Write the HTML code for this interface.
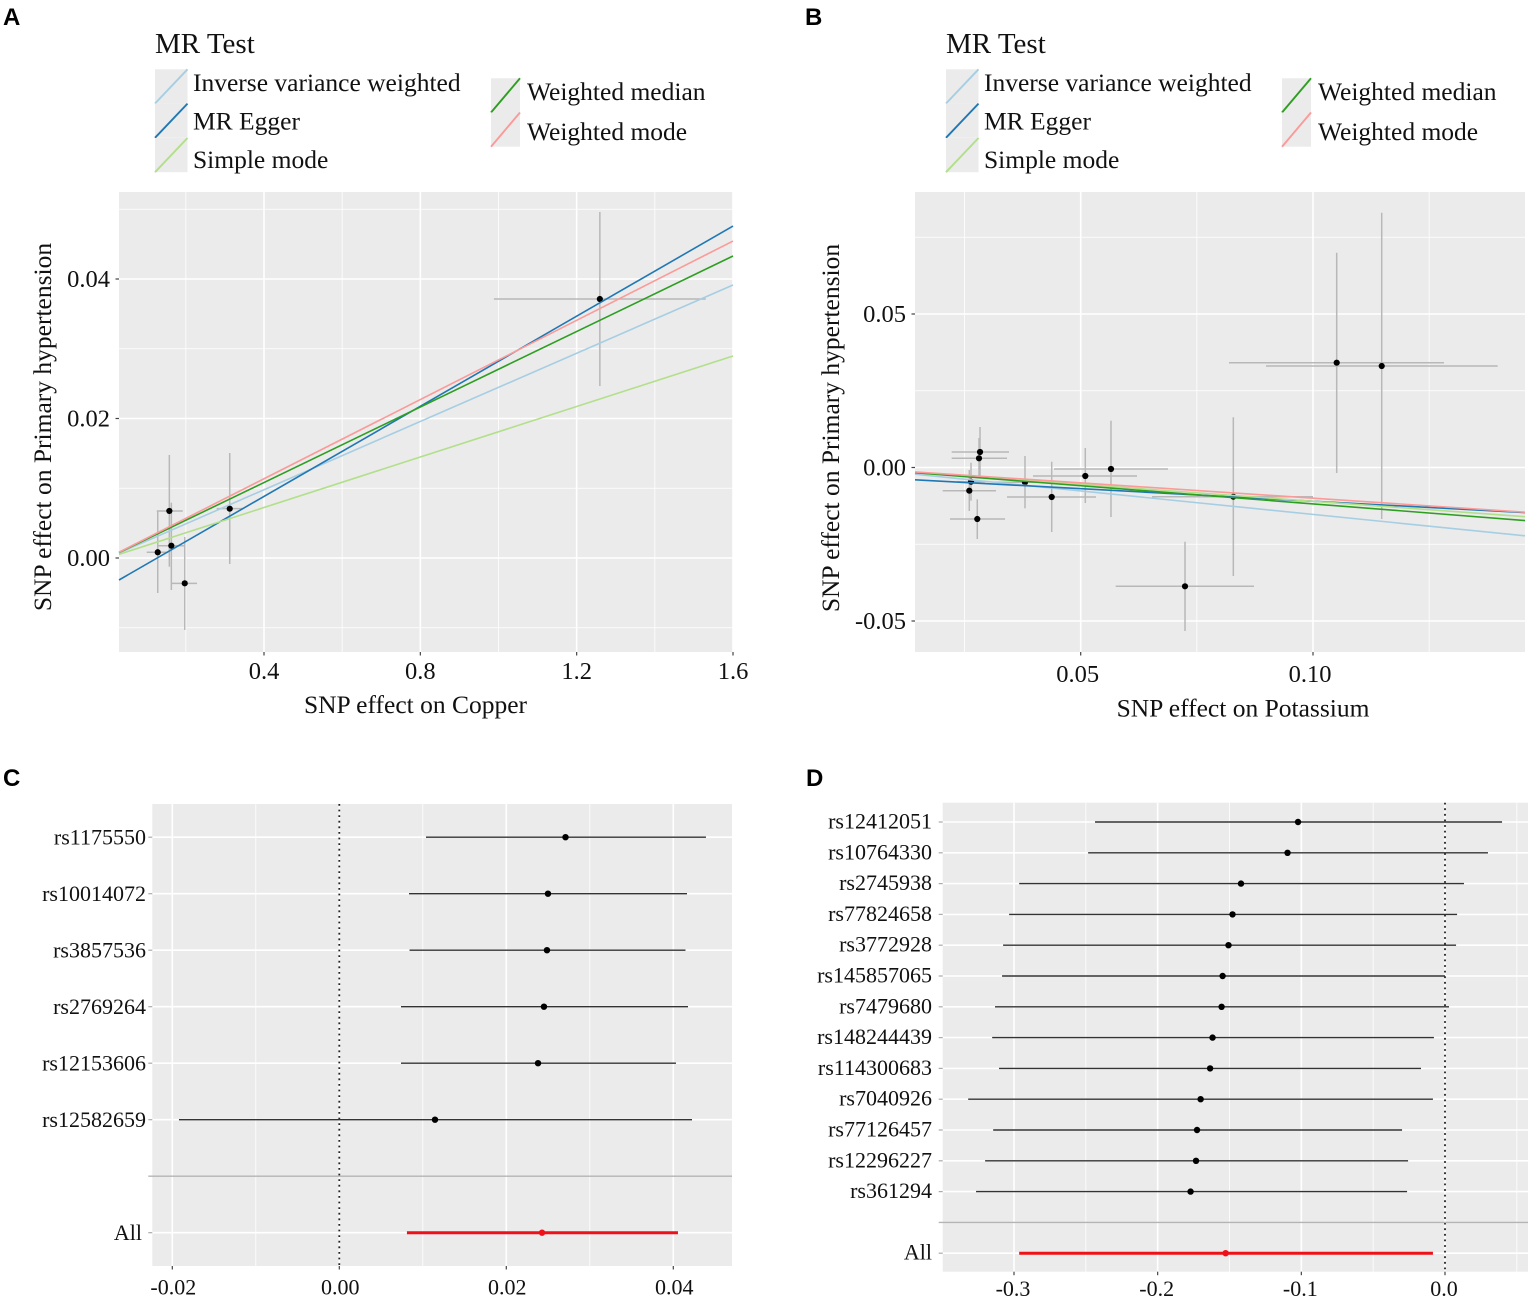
<!DOCTYPE html>
<html>
<head>
<meta charset="utf-8">
<title>MR scatter and forest plots</title>
<style>
html,body{margin:0;padding:0;background:#fff;}
svg{display:block;font-family:"Liberation Serif",serif;}
</style>
</head>
<body>
<svg id="fig" xmlns="http://www.w3.org/2000/svg" width="1535" height="1302" viewBox="0 0 1535 1302"></svg>
<script>
// ---- shared legend data ----
const methodNames = ['Inverse variance weighted','MR Egger','Simple mode','Weighted median','Weighted mode'];
const methodColors = ['#A6CEE3','#1F78B4','#B2DF8A','#2E9E22','#FB9A99'];

// ---- panel A data ----
const aSnpX = [0.1281,0.1578,0.1629,0.1972,0.3123,1.2593];
const aSnpY = [0.00082,0.00674,0.00176,-0.00363,0.00707,0.03713];
const aXLow = [0.1000,0.1256,0.1263,0.1639,0.2790,0.9882];
const aXHigh = [0.1545,0.1921,0.1979,0.2286,0.3455,1.5304];
const aYLow = [-0.00502,-0.00125,-0.00459,-0.01032,-0.00086,0.02466];
const aYHigh = [0.00674,0.01477,0.00793,0.00301,0.01505,0.0496];
const aIntercepts = [0,-0.00409,0,0,0];
const aSlopes = [0.02446,0.0323,0.0181,0.02706,0.0284];
const aXTicks = [0.4,0.8,1.2,1.6];
const aXMinor = [0.2,0.6,1.0,1.4];
const aYTicks = [0,0.02,0.04];
const aYMinor = [-0.01,0.01,0.03,0.05];

// ---- panel B data ----
const bSnpX = [0.02833,0.02811,0.02639,0.02602,0.02774,0.03801,0.04376,0.05099,0.05652,0.07245,0.08285,0.10510,0.11479];
const bSnpY = [0.00505,0.00300,-0.00463,-0.00756,-0.01678,-0.00482,-0.00961,-0.00277,-0.00049,-0.03870,-0.00951,0.03414,0.03306];
const bXLow = [0.02223,0.02223,0.02338,0.02030,0.02187,0.03155,0.03414,0.03973,0.04425,0.05753,0.06535,0.08192,0.08988];
const bXHigh = [0.03457,0.03414,0.02940,0.03177,0.03371,0.04447,0.05329,0.06212,0.06879,0.08730,0.10000,0.12819,0.13975];
const bYLow = [-0.00309,-0.00300,-0.01081,-0.01417,-0.02329,-0.01329,-0.02101,-0.01156,-0.01612,-0.05326,-0.03534,-0.00179,-0.01678];
const bYHigh = [0.01319,0.00961,0.00156,-0.00081,-0.01036,0.00375,0.00189,0.00635,0.01524,-0.02417,0.01635,0.06997,0.08300];
const bIntercepts = [0,-0.00283,0,0,0];
const bSlopes = [-0.1528,-0.0815,-0.11,-0.1186,-0.1];
const bXTicks = [0.05,0.10];
const bXMinor = [0.025,0.075,0.125];
const bYTicks = [-0.05,0,0.05];
const bYMinor = [-0.025,0.025,0.075];

// ---- panel C data ----
const cLabels = ['rs1175550','rs10014072','rs3857536','rs2769264','rs12153606','rs12582659','','All'];
const cEffect = [0.02709,0.02499,0.02487,0.02451,0.02380,0.01146,null,0.02428];
const cLow = [0.01038,0.00835,0.00841,0.00739,0.00739,-0.01920,null,0.00810];
const cHigh = [0.04391,0.04164,0.04146,0.04176,0.04032,0.04224,null,0.04056];
const cXTicks = [-0.02,0,0.02,0.04];
const cXMinor = [-0.01,0.01,0.03];
const cTickText = ['-0.02','0.00','0.02','0.04'];

// ---- panel D data ----
const dLabels = ['rs12412051','rs10764330','rs2745938','rs77824658','rs3772928','rs145857065','rs7479680','rs148244439','rs114300683','rs7040926','rs77126457','rs12296227','rs361294','','All'];
const dEffect = [-0.1023,-0.1096,-0.1420,-0.1479,-0.1507,-0.1548,-0.1555,-0.1618,-0.1635,-0.1701,-0.1726,-0.1733,-0.1771,null,-0.1527];
const dLow = [-0.2436,-0.2484,-0.2964,-0.3034,-0.3076,-0.3083,-0.3132,-0.3152,-0.3104,-0.3319,-0.3145,-0.3201,-0.3264,null,-0.2964];
const dHigh = [0.0397,0.0299,0.0132,0.0084,0.0077,0.0000,0.0028,-0.0077,-0.0167,-0.0084,-0.0299,-0.0257,-0.0264,null,-0.0084];
const dXTicks = [-0.3,-0.2,-0.1,0];
const dXMinor = [-0.25,-0.15,-0.05,0.05];
const dTickText = ['-0.3','-0.2','-0.1','0.0'];

const NS = 'http://www.w3.org/2000/svg';
const fig = document.getElementById('fig');

function mk(tag, attrs, parent){
  const n = document.createElementNS(NS, tag);
  for (const k in attrs) n.setAttribute(k, attrs[k]);
  parent.appendChild(n);
  return n;
}
function group(name, parent){
  const g = mk('g', {}, parent);
  
  
  return g;
}
function seg(parent, name, x1, y1, x2, y2, color, w, dash){
  const l = mk('line', {x1:x1, y1:y1, x2:x2, y2:y2, stroke:color, 'stroke-width':w}, parent);
  if (dash) l.setAttribute('stroke-dasharray', dash);
  
  
  return l;
}
function label(parent, name, str, x, y, size, anchor, color){
  const t = mk('text', {x:x, y:y, 'font-size':size, 'text-anchor':anchor || 'middle', fill:color || '#111'}, parent);
  t.textContent = str;
  
  
  return t;
}
function panelLetter(str, x, y){
  const t = mk('text', {x:x, y:y, 'font-size':24, 'font-weight':'bold', 'font-family':'"Liberation Sans",sans-serif', fill:'#000'}, fig);
  t.textContent = str;
  
  
}
// linear scale anchored on two (value, pixel) reference pairs
function scale(v0, p0, v1, p1){
  const f = v => p0 + (v - v0) * (p1 - p0) / (v1 - v0);
  f.inv = p => v0 + (p - p0) * (v1 - v0) / (p1 - p0);
  return f;
}

function drawLegend(dx, g){
  label(g, 'legend-title', 'MR Test', 155 + dx, 53, 29, 'start');
  const rows = [[155,187.5,69.3,193,91],[155,187.5,103.6,193,129.5],[155,187.5,138,193,168],[491,520,78.3,527,100],[491,520,112.5,527,140]];
  methodNames.forEach((name, i) => {
    const r = rows[i];
    const h = 34.2;
    const key = mk('rect', {x:r[0]+dx, y:r[2], width:r[1]-r[0], height:h, fill:'#EBEBEB'}, g);
    
    
    seg(g, 'legend-line', r[0]+dx, r[2]+h, r[1]+dx, r[2], methodColors[i], 1.9);
    label(g, 'legend-label', name, r[3]+dx, r[4], 25.5, 'start');
  });
}

function drawScatter(p){
  const g = group(p.name, fig);
  const bg = mk('rect', {x:p.l, y:p.t, width:p.r-p.l, height:p.b-p.t, fill:'#EBEBEB'}, g);
  
  
  p.xMinor.forEach(v => seg(g, 'x-minor-gridline', p.sx(v), p.t, p.sx(v), p.b, '#fff', 0.8));
  p.yMinor.forEach(v => seg(g, 'y-minor-gridline', p.l, p.sy(v), p.r, p.sy(v), '#fff', 0.8));
  p.xTicks.forEach(v => {
    seg(g, 'x-major-gridline', p.sx(v), p.t, p.sx(v), p.b, '#fff', 1.6);
    seg(g, 'x-tick', p.sx(v), p.b, p.sx(v), p.b+3.5, '#444', 1.2);
    label(g, 'x-tick-label', v.toFixed(p.xDec), p.sx(v)+p.xLabelShift, p.xTickY, 24.5);
  });
  p.yTicks.forEach(v => {
    seg(g, 'y-major-gridline', p.l, p.sy(v), p.r, p.sy(v), '#fff', 1.6);
    seg(g, 'y-tick', p.l-3.5, p.sy(v), p.l, p.sy(v), '#444', 1.2);
    label(g, 'y-tick-label', v.toFixed(2), p.l-9, p.sy(v)+8, 24.5, 'end');
  });
  p.px.forEach((x, i) => {
    seg(g, 'snp-x-error-bar', p.sx(p.xLow[i]), p.sy(p.py[i]), p.sx(p.xHigh[i]), p.sy(p.py[i]), '#B8B8B8', 1.5);
    seg(g, 'snp-y-error-bar', p.sx(x), p.sy(p.yLow[i]), p.sx(x), p.sy(p.yHigh[i]), '#B8B8B8', 1.5);
  });
  p.px.forEach((x, i) => {
    const c = mk('circle', {cx:p.sx(x), cy:p.sy(p.py[i]), r:3.1, fill:'#000'}, g);
    
    
  });
  const xMin = p.sx.inv(p.l), xMax = p.sx.inv(p.r);
  methodNames.forEach((m, i) => {
    const yA = p.intercepts[i] + p.slopes[i] * xMin;
    const yB = p.intercepts[i] + p.slopes[i] * xMax;
    seg(g, 'regression-line', p.l, p.sy(yA), p.r, p.sy(yB), methodColors[i], 1.6);
  });
  label(g, 'x-axis-title', p.xTitle, p.xTitleX, p.xTitleY, 25.5);
  const yt = label(g, 'y-axis-title', 'SNP effect on Primary hypertension', 0, 0, 25.5);
  yt.setAttribute('transform', 'translate(' + p.yTitleX + ',' + p.yTitleY + ') rotate(-90)');
  drawLegend(p.legendDx, group('legend', g));
}

function drawForest(p){
  const g = group(p.name, fig);
  const bg = mk('rect', {x:p.l, y:p.t, width:p.r-p.l, height:p.b-p.t, fill:'#EBEBEB'}, g);
  
  
  p.xMinor.forEach(v => seg(g, 'x-minor-gridline', p.sx(v), p.t, p.sx(v), p.b, '#fff', 0.8));
  p.xTicks.forEach((v, i) => {
    seg(g, 'x-major-gridline', p.sx(v), p.t, p.sx(v), p.b, '#fff', 1.6);
    seg(g, 'x-tick', p.sx(v), p.b, p.sx(v), p.b+3.5, '#444', 1.2);
    label(g, 'x-tick-label', p.tickText[i], p.sx(v)+p.tickShift, p.xTickY, 22);
  });
  p.labels.forEach((lab, i) => {
    const y = p.y0 + i * p.step;
    if (lab === '') return;
    seg(g, 'y-gridline', p.l, y, p.r, y, '#fff', 1.6);
    seg(g, 'y-tick', p.l-4, y, p.l, y, '#aaa', 1.2);
    label(g, 'snp-label', lab, lab === 'All' ? p.allRight : p.labelRight, y+p.labelDy, 22, 'end');
  });
  seg(g, 'zero-reference-line', p.sx(0), p.t, p.sx(0), p.b, '#222', 1.8, '1.8,3.8');
  p.labels.forEach((lab, i) => {
    const y = p.y0 + i * p.step;
    if (lab === '') {
      seg(g, 'separator-line', p.l-4, y, p.r, y, '#B4B4B4', 1.4);
      return;
    }
    const isAll = lab === 'All';
    seg(g, isAll ? 'overall-interval' : 'snp-interval', p.sx(p.low[i]), y, p.sx(p.high[i]), y, isAll ? '#EE1118' : '#333', isAll ? 3 : 1.4);
    const c = mk('circle', {cx:p.sx(p.effect[i]), cy:y, r:3.2, fill:isAll ? '#EE1118' : '#000'}, g);
    
    
  });
}

panelLetter('A', 3, 25);
panelLetter('B', 805, 25);
panelLetter('C', 3, 786);
panelLetter('D', 806, 786);

drawScatter({
  name:'panel-a-scatter', l:119, r:733, t:192, b:652,
  sx:scale(0.4,264,1.6,733), sy:scale(0,558,0.04,279),
  px:aSnpX, py:aSnpY, xLow:aXLow, xHigh:aXHigh, yLow:aYLow, yHigh:aYHigh,
  intercepts:aIntercepts, slopes:aSlopes,
  xTicks:aXTicks, xMinor:aXMinor, yTicks:aYTicks, yMinor:aYMinor, xDec:1, xLabelShift:0,
  xTickY:679, xTitle:'SNP effect on Copper', xTitleX:415.5, xTitleY:713,
  yTitleX:51, yTitleY:427, legendDx:0
});
drawScatter({
  name:'panel-b-scatter', l:915, r:1525, t:192, b:652,
  sx:scale(0.05,1080.7,0.10,1313), sy:scale(0,467.5,0.05,314),
  px:bSnpX, py:bSnpY, xLow:bXLow, xHigh:bXHigh, yLow:bYLow, yHigh:bYHigh,
  intercepts:bIntercepts, slopes:bSlopes,
  xTicks:bXTicks, xMinor:bXMinor, yTicks:bYTicks, yMinor:bYMinor, xDec:2, xLabelShift:-3,
  xTickY:682, xTitle:'SNP effect on Potassium', xTitleX:1243, xTitleY:716.5,
  yTitleX:839, yTitleY:428, legendDx:791
});
drawForest({
  name:'panel-c-forest', l:152.3, r:732, t:804, b:1266,
  sx:scale(0,339.3,0.04,673.3), y0:837.2, step:56.5,
  labels:cLabels, effect:cEffect, low:cLow, high:cHigh,
  xTicks:cXTicks, xMinor:cXMinor, tickText:cTickText, xTickY:1294.5, tickShift:1,
  labelRight:146, allRight:142, labelDy:7.5
});
drawForest({
  name:'panel-d-forest', l:942.7, r:1528, t:802.7, b:1271.7,
  sx:scale(0,1445,-0.3,1014), y0:822, step:30.8,
  labels:dLabels, effect:dEffect, low:dLow, high:dHigh,
  xTicks:dXTicks, xMinor:dXMinor, tickText:dTickText, xTickY:1296, tickShift:-1,
  labelRight:932, allRight:932, labelDy:6.5
});
</script>
</body>
</html>
